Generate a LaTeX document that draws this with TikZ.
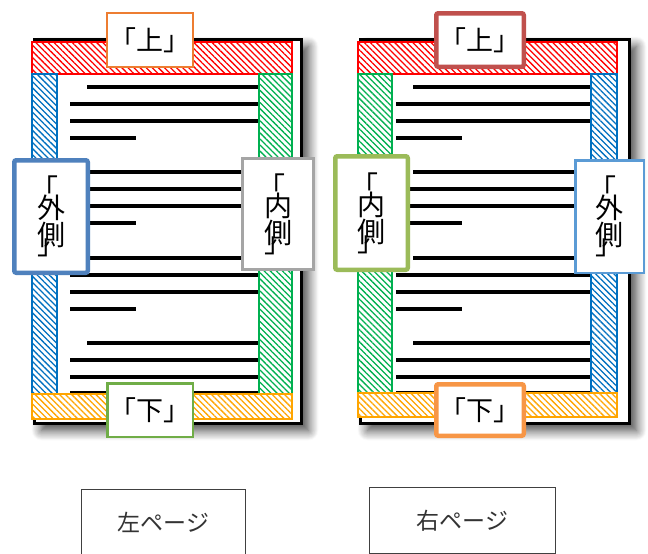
\documentclass[tikz,border=0pt]{standalone}
\usepackage{fontspec}
\newfontfamily\jp{Noto Sans CJK JP}
\usetikzlibrary{patterns.meta,shadows.blur}
\definecolor{orA}{HTML}{ED7D31}
\definecolor{blA}{HTML}{4F81BD}
\definecolor{grA}{HTML}{A5A5A5}
\definecolor{gnA}{HTML}{70AD47}
\definecolor{rdB}{HTML}{C0504D}
\definecolor{gnB}{HTML}{9BBB59}
\definecolor{blB}{HTML}{5B9BD5}
\definecolor{orB}{HTML}{F79646}
\definecolor{hRed}{HTML}{FF0000}
\definecolor{hBlue}{HTML}{0070C0}
\definecolor{hGreen}{HTML}{00B050}
\definecolor{hOrange}{HTML}{FFA500}
\definecolor{boxline}{HTML}{404040}
\newcommand\vlab[2]{\hspace*{-14pt}「\\[-9pt]#1\\[-1pt]#2\\[-19pt]」}
\newcommand\txtlines[4]{%
  \foreach \b in {87,172.3,257.7}{
    \draw[tline] (#1,\b) -- (#3,\b);
    \draw[tline] (#2,\b+17) -- (#3,\b+17);
    \draw[tline] (#2,\b+34) -- (#3,\b+34);
    \draw[tline] (#2,\b+51) -- (#4,\b+51);
  }
  \draw[tline] (#1,343) -- (#3,343);
  \draw[tline] (#2,360) -- (#3,360);
  \draw[tline] (#2,377) -- (#3,377);
  \draw[tline] (#2,393) -- (#3,393);
}
\begin{document}
\begin{tikzpicture}[x=1pt,y=-1pt,
  tline/.style={line width=3.7pt, black},
  pagebox/.style={fill=white, draw=black, line width=3pt,
    blur shadow={shadow xshift=7pt, shadow yshift=-7pt, shadow blur radius=10pt, shadow opacity=75, shadow blur steps=12}},
  band/.style={draw=#1, line width=1.2pt, preaction={fill=white},
    pattern={Lines[angle=-45,distance=4.3pt,line width=1.3pt]}, pattern color=#1},
  lab/.style={draw, fill=white, inner sep=0pt, align=center,
    font=\jp\fontsize{27pt}{28pt}\selectfont},
  vlabel/.style={lab, font=\jp\fontsize{28pt}{28pt}\selectfont},
  bottombox/.style={draw=boxline, line width=1.2pt, fill=white, inner sep=0pt,
    font=\jp\fontsize{23pt}{26pt}\selectfont, text=black!80}
]
\useasboundingbox (0,0) rectangle (648,554);
\clip (0,0) rectangle (648,554);

% ---------- left page ----------
\path[pagebox] (34.5,39.5) rectangle (301.5,423.5);
\txtlines{87}{70}{259}{136}
\path[band=hRed] (32,42) rectangle (292,74);
\path[band=hBlue] (32,74) rectangle (57,394);
\path[band=hGreen] (259,74) rectangle (292,394);
\path[band=hOrange] (32,394) rectangle (292,419);

\node[lab, draw=orA, line width=2pt, minimum width=86pt, minimum height=54pt] (Lup) at (150,40) {「上」};
\node[vlabel, draw=blA, line width=4.5pt, rounded corners=2pt, minimum width=73.5pt, minimum height=112.5pt] (Lout) at (51,216.5) {\vlab{外}{側}};
\node[vlabel, draw=grA, line width=3pt, minimum width=71pt, minimum height=111pt] (Lin) at (278,214) {\vlab{内}{側}};
\node[lab, draw=gnA, line width=2.5pt, minimum width=85.5pt, minimum height=53.5pt] (Ldown) at (150,410) {「下」};

% ---------- right page ----------
\path[pagebox] (360.5,39.5) rectangle (629.5,423.5);
\txtlines{413}{396}{591}{462}
\path[band=hRed] (358,42) rectangle (617,74);
\path[band=hGreen] (358,74) rectangle (392,393);
\path[band=hBlue] (591,74) rectangle (617,393);
\path[band=hOrange] (358,393) rectangle (617,417);

\node[lab, draw=rdB, line width=4.5pt, rounded corners=2pt, minimum width=87.5pt, minimum height=53.5pt] (Rup) at (480,40) {「上」};
\node[vlabel, draw=gnB, line width=4.5pt, rounded corners=2pt, minimum width=72.5pt, minimum height=113.5pt] (Rin) at (371.5,213) {\vlab{内}{側}};
\node[vlabel, draw=blB, line width=2.5pt, minimum width=68.5pt, minimum height=112.5pt] (Rout) at (609.5,216.5) {\vlab{外}{側}};
\node[lab, draw=orB, line width=4.5pt, rounded corners=2pt, minimum width=87.5pt, minimum height=51.5pt] (Rdown) at (480,410) {「下」};

% ---------- captions ----------
\node[bottombox, minimum width=164pt, minimum height=66pt, anchor=north west] (Lcap) at (81,489) {左ページ};
\node[bottombox, minimum width=186pt, minimum height=66pt, anchor=north west] (Rcap) at (369,487) {右ページ};
\end{tikzpicture}
\end{document}
